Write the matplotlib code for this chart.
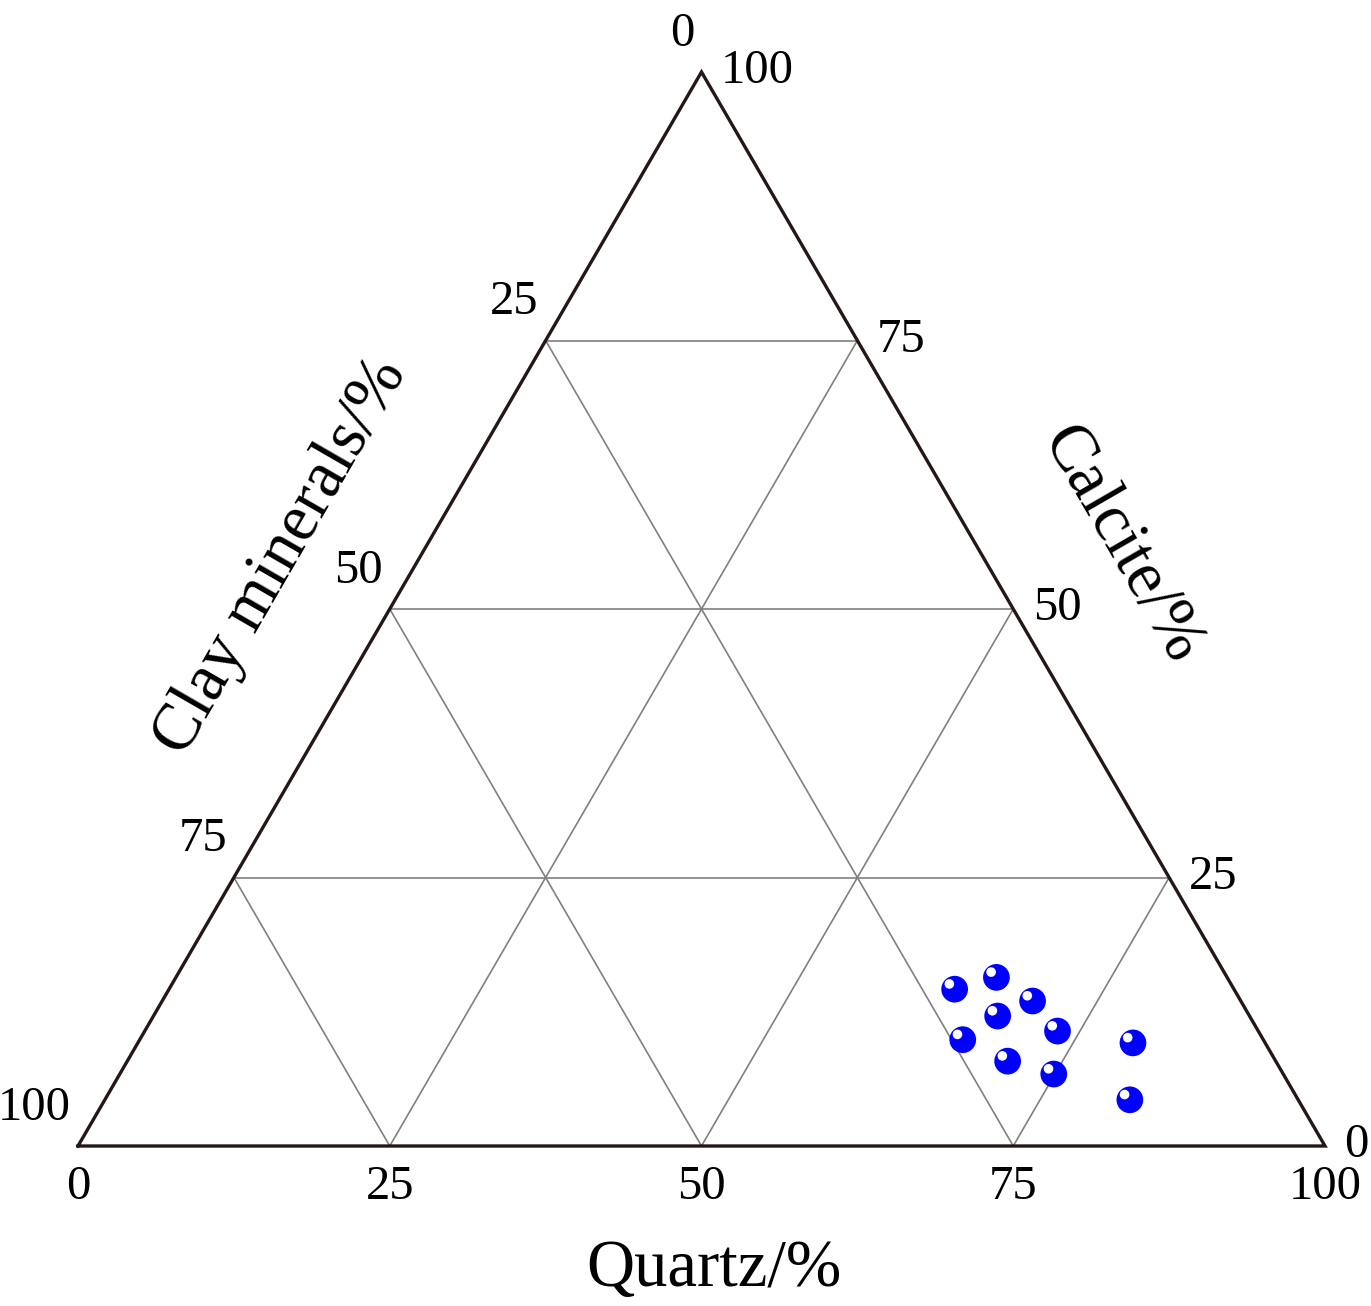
import matplotlib.pyplot as plt
from matplotlib import transforms

plt.rcParams['font.family'] = ['Liberation Serif', 'DejaVu Serif']

# sample compositions (%)
quartz = [63.0, 65.8, 69.8, 67.7, 73.2, 66.0, 70.6, 74.9, 79.8, 82.2]
clay = [22.4, 18.5, 16.7, 20.2, 16.1, 24.1, 21.5, 18.4, 10.6, 13.5]
calcite = [14.6, 15.7, 13.5, 12.1, 10.7, 9.9, 7.9, 6.7, 9.6, 4.3]

tick_values = [0, 25, 50, 75, 100]
grid_values = [25, 50, 75]

OUTLINE = '#231815'
GRID = '#808080'


def to_xy(q, cl, ca):
    # ternary -> cartesian: bottom-left clay, bottom-right quartz, top calcite
    s = q + cl + ca
    q, ca = q / s, ca / s
    return q + ca / 2, ca


fig = plt.figure(figsize=(13.71, 13.06), dpi=100)
ax = fig.add_axes([78 / 1371, 160 / 1306, 1247 / 1371, 1074 / 1306])
ax.set_xlim(0, 1)
ax.set_ylim(0, 1)
ax.axis('off')

# grid lines
for v in grid_values:
    # constant quartz
    p1 = to_xy(v, 100 - v, 0)
    p2 = to_xy(v, 0, 100 - v)
    ax.plot([p1[0], p2[0]], [p1[1], p2[1]], color=GRID, lw=1.2, zorder=1)
    # constant calcite
    p1 = to_xy(0, 100 - v, v)
    p2 = to_xy(100 - v, 0, v)
    ax.plot([p1[0], p2[0]], [p1[1], p2[1]], color=GRID, lw=1.2, zorder=1)
    # constant clay
    p1 = to_xy(100 - v, v, 0)
    p2 = to_xy(0, v, 100 - v)
    ax.plot([p1[0], p2[0]], [p1[1], p2[1]], color=GRID, lw=1.2, zorder=1)

# outline
corners = [to_xy(0, 100, 0), to_xy(100, 0, 0), to_xy(0, 0, 100), to_xy(0, 100, 0)]
ax.plot([c[0] for c in corners], [c[1] for c in corners], color=OUTLINE, lw=2.4,
        solid_joinstyle='miter', zorder=3, clip_on=False)

# tick labels
fs_tick = 35
for v in tick_values:
    # bottom: quartz
    x, y = to_xy(v, 100 - v, 0)
    tr = transforms.offset_copy(ax.transData, fig=fig, x=0, y=-38, units='points')
    ax.text(x, y, str(v), transform=tr, ha='center', va='baseline', fontsize=fs_tick, clip_on=False)
    # left: clay minerals (0 at top)
    x, y = to_xy(0, v, 100 - v)
    tr = transforms.offset_copy(ax.transData, fig=fig, x=-5, y=19, units='points')
    ax.text(x, y, str(v), transform=tr, ha='right', va='baseline', fontsize=fs_tick, clip_on=False)
    # right: calcite (0 at bottom right)
    x, y = to_xy(100 - v, 0, v)
    tr = transforms.offset_copy(ax.transData, fig=fig, x=14, y=-8, units='points')
    ax.text(x, y, str(v), transform=tr, ha='left', va='baseline', fontsize=fs_tick, clip_on=False)

# axis titles
fs_title = 48
x, y = to_xy(50, 50, 0)
tr = transforms.offset_copy(ax.transData, fig=fig, x=9, y=-101, units='points')
ax.text(x, y, 'Quartz/%', transform=tr, ha='center', va='baseline', fontsize=fs_title, clip_on=False)

x, y = to_xy(0, 50, 50)
tr = transforms.offset_copy(ax.transData, fig=fig, x=-78, y=38, units='points')
ax.text(x, y, 'Clay minerals/%', transform=tr, rotation=60, rotation_mode='anchor',
        ha='center', va='center', fontsize=fs_title, clip_on=False)

x, y = to_xy(50, 0, 50)
tr = transforms.offset_copy(ax.transData, fig=fig, x=78, y=46, units='points')
ax.text(x, y, 'Calcite/%', transform=tr, rotation=-60, rotation_mode='anchor',
        ha='center', va='center', fontsize=fs_title, clip_on=False)

# data points: blue balls with a white highlight
pts = [to_xy(q, cl, ca) for q, cl, ca in zip(quartz, clay, calcite)]
px = [p[0] for p in pts]
py = [p[1] for p in pts]
ax.scatter(px, py, s=370, color='#0000ff', edgecolors='none', zorder=4, clip_on=False)
hl = transforms.offset_copy(ax.transData, fig=fig, x=-3.8, y=3.8, units='points')
ax.scatter(px, py, s=48, color='white', edgecolors='none', transform=hl, zorder=5, clip_on=False)

fig.savefig('out.png', dpi=100, facecolor='white')
